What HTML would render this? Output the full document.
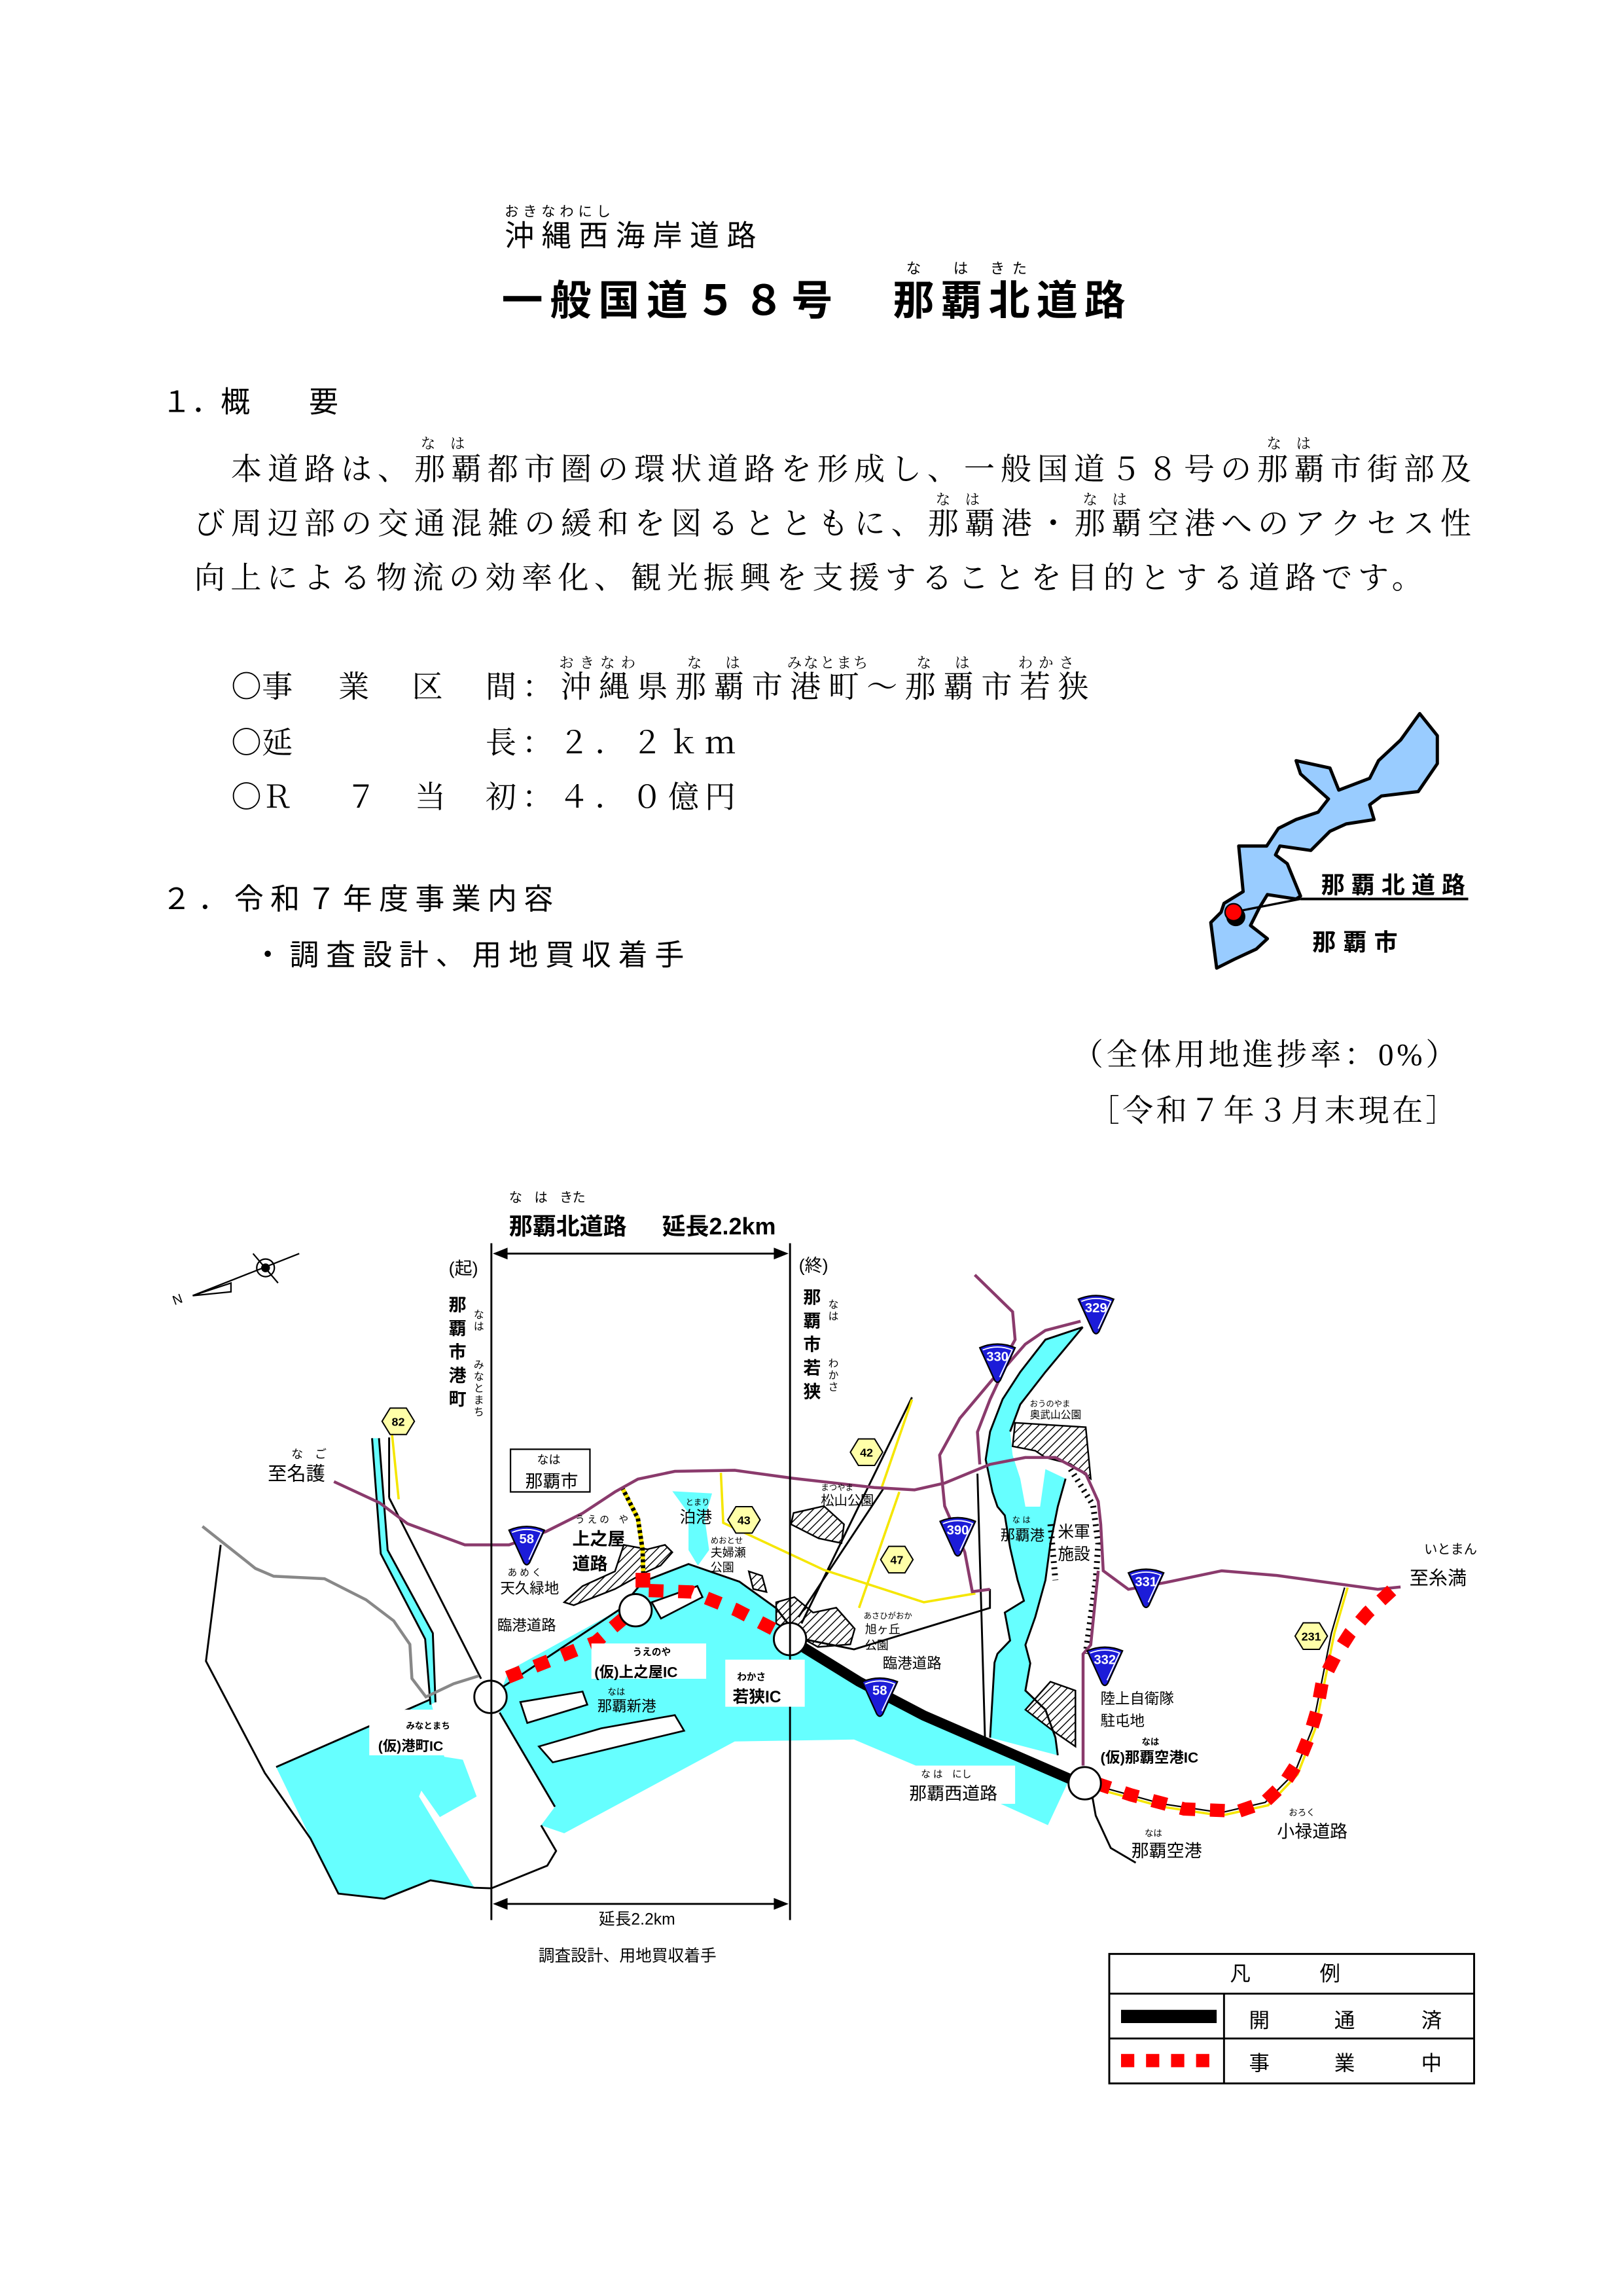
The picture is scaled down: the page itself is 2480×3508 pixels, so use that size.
<!DOCTYPE html>
<html><head><meta charset="utf-8"><style>
html,body{margin:0;padding:0;background:#fff;}
svg{display:block;}
.g{font-family:"Liberation Sans","Noto Sans CJK JP",sans-serif;}
.m{font-family:"Liberation Serif","Noto Serif CJK SC",serif;}
.c{font-family:"Noto Serif CJK SC",serif;}
</style></head><body>
<svg width="2480" height="3508" viewBox="0 0 1103.2 1560.5" preserveAspectRatio="none" xmlns="http://www.w3.org/2000/svg">
<defs>
<pattern id="h" width="4" height="4" patternUnits="userSpaceOnUse" patternTransform="rotate(45)">
<rect width="4" height="4" fill="#fff"/><line x1="0" y1="0" x2="0" y2="4" stroke="#000" stroke-width="1.3"/></pattern>
<g id="sh"><path d="M-12,-9 Q0,-14 12,-9 L2,13 Q0,16 -2,13 Z" fill="#1c1cd8" stroke="#000" stroke-width="1"/><path d="M-10,-7.5 Q0,-11.5 10,-7.5 L1.5,11" fill="none" stroke="#fff" stroke-width="0.8"/></g>
<polygon id="hx" points="-11,0 -5.5,-9 5.5,-9 11,0 5.5,9 -5.5,9" fill="#ffffa8" stroke="#000" stroke-width="0.9"/>
</defs>
<rect width="1103.2" height="1560.5" fill="#fff"/>

<g class="g">
<text x="343" y="147" font-size="9.5" textLength="72" lengthAdjust="spacing">おきなわにし</text>
<text x="343" y="167" font-size="20" textLength="171" lengthAdjust="spacing">沖縄西海岸道路</text>
<text x="341" y="214" font-size="28" font-weight="bold" textLength="225" lengthAdjust="spacing">一般国道５８号</text>
<text x="607" y="214" font-size="28" font-weight="bold" textLength="158" lengthAdjust="spacing">那覇北道路</text>
<text x="616" y="186" font-size="10">な</text><text x="648" y="186" font-size="10">は</text><text x="673" y="186" font-size="10">き</text><text x="688" y="186" font-size="10">た</text>
</g>

<g class="m" font-size="21">
<text x="110" y="280" font-size="20" class="g">１．概　　要</text>
<text x="286" y="305" font-size="10">な　は</text>
<text x="861" y="305" font-size="10">な　は</text>
<text x="157" y="326" textLength="843" lengthAdjust="spacing">本道路は、那覇都市圏の環状道路を形成し、一般国道５８号の那覇市街部及</text>
<text x="636" y="343" font-size="10">な　は</text>
<text x="736" y="343" font-size="10">な　は</text>
<text x="132" y="363" textLength="868" lengthAdjust="spacing">び周辺部の交通混雑の緩和を図るとともに、那覇港・那覇空港へのアクセス性</text>
<text x="132" y="400" textLength="835" lengthAdjust="spacing">向上による物流の効率化、観光振興を支援することを目的とする道路です。</text>

<text x="380" y="454" font-size="10" textLength="52" lengthAdjust="spacing">おきなわ</text>
<text x="467" y="454" font-size="10" textLength="36" lengthAdjust="spacing">な　は</text>
<text x="535" y="454" font-size="10" textLength="55" lengthAdjust="spacing">みなとまち</text>
<text x="623" y="454" font-size="10" textLength="36" lengthAdjust="spacing">な　は</text>
<text x="692" y="454" font-size="10" textLength="38" lengthAdjust="spacing">わかさ</text>
<text x="157" y="474" class="c">○事</text><text x="230" y="474">業</text><text x="280" y="474">区</text><text x="330" y="474">間</text>
<text x="355" y="474" textLength="385" lengthAdjust="spacing">：沖縄県那覇市港町～那覇市若狭</text>
<text x="157" y="512" class="c">○延</text>
<text x="330" y="512" textLength="170" lengthAdjust="spacing">長：２．２ｋｍ</text>
<text x="157" y="549" class="c">○Ｒ</text><text x="235" y="549">７</text><text x="282" y="549">当</text>
<text x="330" y="549" textLength="170" lengthAdjust="spacing">初：４．０億円</text>

<text x="110" y="618" font-size="20" class="g" textLength="266" lengthAdjust="spacing">２．令和７年度事業内容</text>
<text x="172" y="656" font-size="20" class="g" textLength="293" lengthAdjust="spacing">・調査設計、用地買収着手</text>
<text x="729" y="724" textLength="261" lengthAdjust="spacing">（全体用地進捗率：0%）</text>
<text x="740" y="762" textLength="250" lengthAdjust="spacing">［令和７年３月末現在］</text>
</g>

<polygon points="965,485 977,500 977,519 964,538 939,541 931,547 934,557 915,560 904,565 891,578 870,575 867,581 875,587 884,609 881,611 861.5,608 856,617 850,629 861.5,638 854,645 839,652 827,658 823,627 830,620 832,614 845,606 842,575 861,575 869,563 881,557 896,552 903,543 884,526 881,517 904,522 910,537 931,529 937,517 952,503" fill="#99ccff" stroke="#000" stroke-width="2.2" stroke-linejoin="round"/>
<line x1="838" y1="620" x2="884" y2="611" stroke="#000" stroke-width="1.5"/>
<line x1="884" y1="611" x2="998" y2="611" stroke="#000" stroke-width="1.8"/>
<circle cx="840" cy="623" r="6.5" fill="#000"/>
<circle cx="838.5" cy="620" r="5.8" fill="#f00" stroke="#000" stroke-width="1"/>
<text class="g" x="898" y="607" font-size="16" font-weight="bold" textLength="98" lengthAdjust="spacing">那覇北道路</text>
<text class="g" x="892" y="646" font-size="16" font-weight="bold" textLength="58" lengthAdjust="spacing">那覇市</text>

<g fill="#66ffff">
<polygon points="187.7,1201 292.6,1155 302,1194 314.6,1196 324,1221 299,1235 286.4,1217 284.8,1221 322.4,1283 292.6,1278 261.3,1290 230,1287 211,1249"/>
<polygon points="252.9,977.5 257.6,977.5 263.5,1053.5 294.2,1110 296,1157 292.6,1158.6 289,1114 258.8,1056"/>
<polygon points="339.6,1151.5 345.9,1135.4 421,1094 437,1075 468,1063 502.6,1075 527.6,1093 546.4,1117.5 584,1143 628,1165 727,1209 712.3,1240.5 621.6,1199.6 580.5,1182.3 499.4,1183.6 383.5,1246 367.8,1240.6 377.2,1228 339.6,1164"/>
<polygon points="736,902 710.6,910.5 693.5,932.5 681.5,951 673,973 670,992 674.6,1014 678,1024 683,1030 686.6,1052 691.7,1074 696,1088 683,1096 686.6,1115 678,1124 676,1130 673,1181 719,1193 717.4,1181 710.6,1162 697,1149 700.3,1130.5 697,1118 703.7,1099 710.6,1074 714,1049 719,1024 724.3,1005 710.6,998.5 707,1024 697,1024 693.5,1005 688.3,989 686.6,973 693.5,954.5 710.6,932.5"/>
<polygon points="457,1013.5 484,1015 479,1032 482,1053.5 474.4,1064 468,1053.5 468,1028.5"/>
</g>
<g fill="#fff" stroke="#000" stroke-width="1.2">
<polygon points="353.7,1156.8 396,1149.7 399.2,1158.6 358.4,1171"/>
<polygon points="366.3,1187 408.6,1174.7 458.7,1165.7 465,1176.3 375.7,1197.8"/>
<polygon points="443,1089 474,1078 477.5,1085.5 449.3,1100"/>
</g>
<g fill="url(#h)" stroke="#000" stroke-width="1.1">
<polygon points="383.5,1089 396,1078 418,1068 424,1050 440,1053 452,1050 457,1055 449,1064 437,1069.5 418,1080 390,1091"/>
<polygon points="539.4,1028.3 560,1023.6 573.7,1036 572,1048.8 556.5,1045.6 537.7,1036"/>
<polygon points="527.6,1089 540,1085.5 552.7,1096 568.4,1092.7 581,1107 578,1117.6 556,1119.4 540,1110.5 527.6,1103.4"/>
<polygon points="509,1068 518,1071 521,1082 512,1080"/>
<polygon points="690,967 738,970 741.4,1005 727.7,995 710.6,990.6 703.7,986 688.3,983"/>
<polygon points="697,1162 714,1143 731,1149 731,1187 717.4,1177.6"/>
</g>
<polyline points="727.7,998.5 743,1023 746.5,1049 744.8,1074 741.4,1099 738,1124" fill="none" stroke="#000" stroke-width="4" stroke-dasharray="1.2,3"/>
<polyline points="714,1036 717.4,1074" fill="none" stroke="#000" stroke-width="4" stroke-dasharray="1.2,3"/>

<g fill="none" stroke="#000" stroke-width="1.3">
<polyline points="150,1050 140,1129 180,1205 211,1249.5 230,1287 261.3,1290.5 292.6,1278 322.4,1283 334,1283.4 372,1268 378,1258 367.8,1240.6"/>
<polyline points="187.7,1201 292.6,1155"/>
<polyline points="257.6,977.5 263.5,1053.5 294.2,1110 296,1157"/>
<polyline points="252.9,977.5 258.8,1056 289,1114 292.6,1158.6"/>
<line x1="264.5" y1="977" x2="264.5" y2="1018"/>
<line x1="264.5" y1="1018" x2="327" y2="1141"/>
<line x1="339.6" y1="1164" x2="377.2" y2="1228"/>
<polyline points="339.6,1148 421,1094 437,1075 468,1063 502.6,1075 527.6,1093 546.4,1117.5"/>
<line x1="544.8" y1="1103.4" x2="619.9" y2="949.7"/>
<line x1="542.8" y1="1099" x2="601" y2="1011"/>
<polyline points="546,1114 580.5,1121 672.9,1092.8 672.9,1080"/>
<line x1="664.4" y1="1001.6" x2="669.5" y2="1180.8"/>
<polyline points="736,902 710.6,910.5 693.5,932.5 681.5,951 673,973 670,992 674.6,1014 678,1024 683,1030 686.6,1052 691.7,1074 696,1088 683,1096 686.6,1115 678,1124 676,1130 673,1181"/>
<polyline points="736,902 710.6,932.5 693.5,954.5 686.6,973"/>
<polyline points="719,1193 717.4,1181 710.6,1162 697,1149 700.3,1130.5 697,1118 703.7,1099 710.6,1074 714,1049 719,1024 724.3,1005"/>
<polyline points="741.4,1215 744.8,1234 755,1256 772,1266"/>
<polyline points="914,1079 905,1110 898,1145 892,1175 880,1205 860,1225 830,1232 790,1226 750,1215" stroke-width="1"/>
</g>
<polyline points="137.6,1037.4 173.6,1066 186,1071.3 220.6,1073 248.8,1087.3 267.6,1101.6 278.6,1117.6 280,1140.8 289.5,1153.3 308.3,1144.4 325.5,1139" fill="none" stroke="#888" stroke-width="2"/>

<g fill="none" stroke="#f5e600" stroke-width="1.6">
<polyline points="266.5,975 271,1019"/>
<polyline points="490,1001 491.6,1035 560,1067 628,1089 663,1083"/>
<polyline points="619.9,951.3 599.3,1011"/>
<polyline points="611.3,1014 583.9,1092.8"/>
<polyline points="916,1079 907,1110 900,1145 894,1175 882,1206 862,1227 830,1234 790,1228 750,1217"/>
<polyline points="422.7,1010.7 433.6,1032 436.8,1053.4 437.4,1074.8" stroke-width="3"/>
</g>
<polyline points="422.7,1010.7 433.6,1032 436.8,1053.4 437.4,1074.8" fill="none" stroke="#000" stroke-width="3" stroke-dasharray="2,2"/>

<g fill="none" stroke="#8a3a6c" stroke-width="2">
<polyline points="227,1007 258,1021.4 277,1035.6 316,1050 346,1050 371,1041 396,1028.5 418,1014 433.6,1005.3 458.7,1000 499.4,999.3 539.4,1004.8 594.2,1011 621.6,1012.6 642.1,1008 672.9,995.3 696.9,990.6 717.4,990.6 738,1001.6 746.5,1020.5 748.2,1036 749.9,1067.6 767,1080.2 792.7,1075.5 830.4,1067.6 868,1070.8 936.5,1080.2 952,1078.6"/>
<polyline points="746.5,1067.6 741.4,1118 736.2,1124.2 736.2,1200"/>
<polyline points="662.6,866.5 688.3,891.6 690,910.5 676.3,935.6 652.4,964 638.7,989 642.1,1023.6 655.8,1055 660.9,1081.8 672.9,1080.2"/>
<polyline points="666,995.3 664.4,973.3 672.9,951.3 683.2,929.3 696.9,913.6 710.6,904.2 734.5,898"/>
</g>

<polyline points="537,1114 584,1143 628,1166 727,1209" fill="none" stroke="#000" stroke-width="7" stroke-linejoin="round"/>
<g fill="none" stroke="#f00" stroke-width="9" stroke-dasharray="10,10">
<polyline points="345,1140 405,1116 432,1093"/>
<polyline points="441,1081 470,1082 500,1094 537,1113"/>
<polyline points="745,1212 769,1220 805,1229.5 842,1231 859.5,1225 873,1212 883.4,1196 890.3,1179 895.4,1162 898.8,1143 907.4,1126 917.6,1110 929.7,1096 947,1080"/>
</g>
<rect x="432" y="1069" width="10" height="10" fill="#f00"/>

<g fill="#fff" stroke="#000" stroke-width="1.3">
<circle cx="333.4" cy="1153.3" r="11"/>
<circle cx="432" cy="1094.4" r="11"/>
<circle cx="537" cy="1114" r="11"/>
<circle cx="737.3" cy="1212" r="11"/>
</g>

<g stroke="#000" stroke-width="1.3">
<line x1="334" y1="845" x2="334" y2="1305"/>
<line x1="537" y1="845" x2="537" y2="1305"/>
<line x1="340" y1="852" x2="531" y2="852"/>
<line x1="340" y1="1294" x2="531" y2="1294"/>
</g>
<g fill="#000">
<polygon points="335,852 345,848 345,856"/><polygon points="536,852 526,848 526,856"/>
<polygon points="335,1294 345,1290 345,1298"/><polygon points="536,1294 526,1290 526,1298"/>
</g>

<g stroke="#000" stroke-width="1" fill="none">
<line x1="131" y1="880.6" x2="203.4" y2="852"/>
<polygon points="131,880.6 157,872 157,878" fill="#fff"/>
<circle cx="180.5" cy="861.7" r="6"/><circle cx="180.5" cy="861.7" r="2.5" fill="#000"/>
<line x1="172" y1="852" x2="189" y2="872"/>
</g>
<text class="g" x="117" y="886" font-size="9" transform="rotate(-20 121 882)">N</text>

<g class="g" font-size="9" font-weight="bold" fill="#fff" text-anchor="middle">
<use href="#sh" x="358" y="1049"/><text x="358" y="1049">58</text>
<use href="#sh" x="598" y="1152"/><text x="598" y="1152">58</text>
<use href="#sh" x="678" y="925"/><text x="678" y="925">330</text>
<use href="#sh" x="745" y="892"/><text x="745" y="892">329</text>
<use href="#sh" x="651" y="1043"/><text x="651" y="1043">390</text>
<use href="#sh" x="779" y="1078"/><text x="779" y="1078">331</text>
<use href="#sh" x="751" y="1131"/><text x="751" y="1131">332</text>
</g>
<g class="g" font-size="8" font-weight="bold" text-anchor="middle">
<use href="#hx" x="270.7" y="966"/><text x="270.7" y="969">82</text>
<use href="#hx" x="589" y="987"/><text x="589" y="990">42</text>
<use href="#hx" x="505.7" y="1033"/><text x="505.7" y="1036">43</text>
<use href="#hx" x="609.6" y="1060"/><text x="609.6" y="1063">47</text>
<use href="#hx" x="891.3" y="1112"/><text x="891.3" y="1115">231</text>
</g>

<g fill="#fff">
<rect x="251" y="1162" width="64" height="31"/>
<rect x="402" y="1117" width="78" height="24"/>
<rect x="493" y="1128" width="54" height="32"/>
<rect x="615" y="1200" width="75" height="26"/>
</g>
<rect x="347" y="985" width="54" height="29" fill="#fff" stroke="#000" stroke-width="1"/>

<g class="g" fill="#000">
<text x="346" y="817" font-size="9" textLength="52" lengthAdjust="spacing">な　は　きた</text>
<text x="346" y="839" font-size="16" font-weight="bold">那覇北道路</text>
<text x="450" y="839" font-size="16" font-weight="bold">延長2.2km</text>
<text x="305" y="866" font-size="12">(起)</text>
<text x="543" y="864" font-size="12">(終)</text>
<g font-size="12" font-weight="bold">
<text x="305" y="891">那</text><text x="305" y="907">覇</text><text x="305" y="923">市</text><text x="305" y="939">港</text><text x="305" y="955">町</text>
<text x="546" y="886">那</text><text x="546" y="902">覇</text><text x="546" y="918">市</text><text x="546" y="934">若</text><text x="546" y="950">狭</text>
</g>
<g font-size="7">
<text x="322" y="896">な</text><text x="322" y="904">は</text>
<text x="322" y="930">み</text><text x="322" y="938">な</text><text x="322" y="946">と</text><text x="322" y="954">ま</text><text x="322" y="962">ち</text>
<text x="563" y="889">な</text><text x="563" y="897">は</text>
<text x="563" y="929">わ</text><text x="563" y="937">か</text><text x="563" y="945">さ</text>
</g>
<text x="198" y="991" font-size="8">な　ご</text>
<text x="182" y="1006" font-size="13">至名護</text>
<text x="365" y="995" font-size="8">なは</text>
<text x="357" y="1011" font-size="12">那覇市</text>
<text x="391" y="1035" font-size="6.5">う え の　や</text>
<text x="389" y="1050" font-size="12" font-weight="bold">上之屋</text>
<text x="389" y="1067" font-size="12" font-weight="bold">道路</text>
<text x="345" y="1071" font-size="6.5">あ め く</text>
<text x="340" y="1083" font-size="10">天久緑地</text>
<text x="338" y="1108" font-size="10">臨港道路</text>
<text x="466" y="1023" font-size="5.5">とまり</text>
<text x="462" y="1035" font-size="11">泊港</text>
<text x="483" y="1049" font-size="5.5">めおとせ</text>
<text x="483" y="1058" font-size="8">夫婦瀬</text>
<text x="483" y="1068" font-size="8">公園</text>
<text x="558" y="1013" font-size="5.5">まつやま</text>
<text x="558" y="1023" font-size="9">松山公園</text>
<text x="587" y="1100" font-size="5.5">あさひがおか</text>
<text x="588" y="1110" font-size="8">旭ヶ丘</text>
<text x="588" y="1121" font-size="8">公園</text>
<text x="600" y="1134" font-size="10">臨港道路</text>
<text x="700" y="956" font-size="5.5">おうのやま</text>
<text x="700" y="964" font-size="7">奥武山公園</text>
<text x="688" y="1035" font-size="5.5">な は</text>
<text x="680" y="1047" font-size="10">那覇港</text>
<text x="719" y="1045" font-size="11">米軍</text>
<text x="719" y="1060" font-size="11">施設</text>
<text x="968" y="1056" font-size="9">いとまん</text>
<text x="958" y="1077" font-size="13">至糸満</text>
<text x="748" y="1158" font-size="10">陸上自衛隊</text>
<text x="748" y="1173" font-size="10">駐屯地</text>
<text x="776" y="1186" font-size="6" font-weight="bold">なは</text>
<text x="748" y="1198" font-size="10" font-weight="bold">(仮)那覇空港IC</text>
<text x="626" y="1208" font-size="6.5">な は　にし</text>
<text x="618" y="1223" font-size="12">那覇西道路</text>
<text x="778" y="1248" font-size="6">なは</text>
<text x="769" y="1262" font-size="12">那覇空港</text>
<text x="876" y="1234" font-size="6">おろく</text>
<text x="868" y="1249" font-size="12">小禄道路</text>
<text x="430" y="1125" font-size="6.5" font-weight="bold">うえのや</text>
<text x="404" y="1140" font-size="10" font-weight="bold">(仮)上之屋IC</text>
<text x="413" y="1152" font-size="6">なは</text>
<text x="406" y="1163" font-size="10">那覇新港</text>
<text x="501" y="1142" font-size="6.5" font-weight="bold">わかさ</text>
<text x="498" y="1157" font-size="11" font-weight="bold">若狭IC</text>
<text x="276" y="1175" font-size="6" font-weight="bold">みなとまち</text>
<text x="257" y="1190" font-size="9.5" font-weight="bold">(仮)港町IC</text>
<text x="407" y="1308" font-size="11">延長2.2km</text>
<text x="366" y="1333" font-size="11">調査設計、用地買収着手</text>
</g>

<g stroke="#000" stroke-width="1.3" fill="none">
<rect x="754" y="1328" width="248" height="88"/>
<line x1="754" y1="1355" x2="1002" y2="1355"/>
<line x1="754" y1="1385.5" x2="1002" y2="1385.5"/>
<line x1="832" y1="1355" x2="832" y2="1416"/>
</g>
<rect x="762" y="1366" width="65" height="9" fill="#000"/>
<g fill="#f00"><rect x="762" y="1396" width="9" height="9"/><rect x="779" y="1396" width="9" height="9"/><rect x="796" y="1396" width="9" height="9"/><rect x="813" y="1396" width="9" height="9"/></g>
<g class="g" font-size="14">
<text x="836" y="1346">凡</text><text x="897" y="1346">例</text>
<text x="849" y="1378">開</text><text x="907" y="1378">通</text><text x="966" y="1378">済</text>
<text x="849" y="1407">事</text><text x="907" y="1407">業</text><text x="966" y="1407">中</text>
</g>
</svg>
</body></html>
